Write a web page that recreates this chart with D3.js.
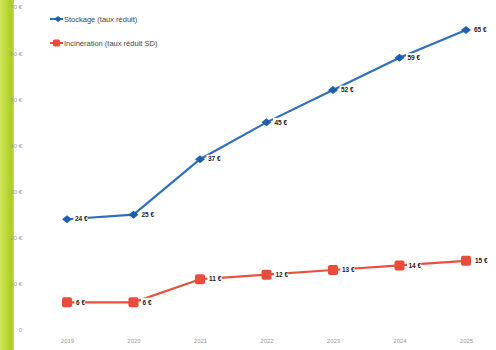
<!DOCTYPE html>
<html><head><meta charset="utf-8">
<script src="https://cdn.jsdelivr.net/npm/d3@7"></script>
<style>body{margin:0;background:#fff}svg{display:block}</style>
</head><body>
<script>
const years = ["2019","2020","2021","2022","2023","2024","2025"];
const stockage = [24,25,37,45,52,59,65];
const incineration = [6,6,11,12,13,14,15];
const yTicks = [0,10,20,30,40,50,60,70];
const seriesNames = ["Stockage (taux réduit)","Incinération (taux réduit SD)"];

const W=496,H=350;
const svg=d3.select("body").append("svg").attr("width",W).attr("height",H);
const defs=svg.append("defs");
const g=defs.append("linearGradient").attr("id","gb").attr("x1",0).attr("x2",1);
g.append("stop").attr("offset",0).attr("stop-color","#cfe45c");
g.append("stop").attr("offset",0.8).attr("stop-color","#acce1e");
g.append("stop").attr("offset",1).attr("stop-color","#c4dd52");
svg.append("rect").attr("x",0).attr("y",0).attr("width",14).attr("height",H).attr("fill","url(#gb)");

const x=d3.scalePoint().domain(years).range([67,466]);
const y=d3.scaleLinear().domain([0,70]).range([330,7]);

const yAxis=svg.append("g").attr("transform","translate(25,0)")
  .call(d3.axisLeft(y).tickValues(yTicks).tickSize(0).tickFormat(d=>d===0?"0":d+" €"));
yAxis.select(".domain").remove();
yAxis.selectAll("text").attr("font-family","Liberation Sans, sans-serif").attr("font-size",6).attr("fill","#999");

const xAxis=svg.append("g").attr("transform","translate(0,336)")
  .call(d3.axisBottom(x).tickSize(0));
xAxis.select(".domain").remove();
xAxis.selectAll("text").attr("font-family","Liberation Sans, sans-serif").attr("font-size",6).attr("fill","#999");

const line=d3.line().x((d,i)=>x(years[i])).y(d=>y(d));
const colors=["#2e6fbf","#e8503c"];
const diamond=(w,h)=>`M${-w/2},0L0,${-h/2}L${w/2},0L0,${h/2}Z`;

function labels(data,dx,cls){
  const gl=svg.selectAll("."+cls).data(data).enter().append("g")
    .attr("transform",(d,i)=>`translate(${x(years[i])+dx},${y(d)})`);
  gl.append("rect").attr("x",-1.5).attr("y",-4.5).attr("width",d=>String(d).length*3.6+7).attr("height",8.5).attr("fill","#fff");
  gl.append("text").attr("y",2.2)
    .attr("font-family","Liberation Sans, sans-serif").attr("font-size",6.5).attr("font-weight","bold").attr("fill","#222")
    .text(d=>d+" €");
}

// stockage
svg.append("path").datum(stockage).attr("d",line).attr("fill","none").attr("stroke",colors[0]).attr("stroke-width",2.2);
svg.selectAll(".ms").data(stockage).enter().append("path")
  .attr("transform",(d,i)=>`translate(${x(years[i])},${y(d)})`)
  .attr("d",diamond(10,8)).attr("fill","#1f5fae");

// incineration
svg.append("path").datum(incineration).attr("d",line).attr("fill","none").attr("stroke",colors[1]).attr("stroke-width",2.2);
svg.selectAll(".mi").data(incineration).enter().append("rect")
  .attr("x",(d,i)=>x(years[i])-5).attr("y",d=>y(d)-5).attr("width",10).attr("height",10).attr("rx",2)
  .attr("fill","#e84c3a");

labels(stockage,8,"ls");
labels(incineration,9,"li");

// legend
const leg=svg.append("g");
[19,43].forEach((ly,k)=>{
  leg.append("line").attr("x1",50).attr("x2",63).attr("y1",ly).attr("y2",ly).attr("stroke",colors[k]).attr("stroke-width",2);
  if(k===0) leg.append("path").attr("transform",`translate(58,${ly})`).attr("d",diamond(8,6)).attr("fill","#1f5fae");
  else leg.append("rect").attr("x",53).attr("y",ly-3.5).attr("width",7).attr("height",7).attr("rx",1.5).attr("fill","#e84c3a");
  leg.append("text").attr("x",64).attr("y",ly+2.5).attr("font-family","Liberation Sans, sans-serif").attr("font-size",7.5).attr("fill","#444").text(seriesNames[k]);
});
</script>
</body></html>
